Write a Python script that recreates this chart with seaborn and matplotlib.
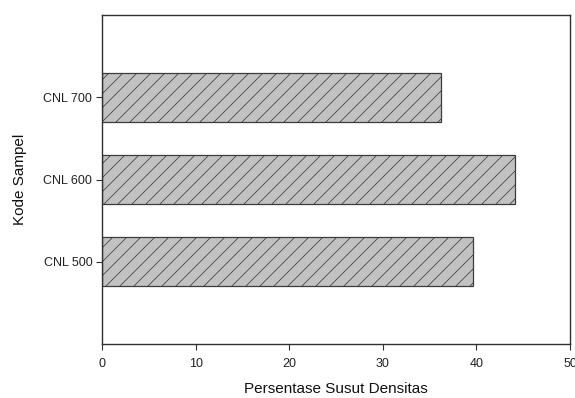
import pandas as pd
import numpy as np
import matplotlib
matplotlib.use('Agg')
import matplotlib.pyplot as plt
import seaborn as sns

# Data
samples = ['CNL 700', 'CNL 600', 'CNL 500']
shrinkage = [36.2, 44.1, 39.6]
x_ticks = [0, 10, 20, 30, 40, 50]

df = pd.DataFrame({'Kode Sampel': samples, 'Persentase': shrinkage})

# render at dpi 84 so the hatch spacing matches; scale point sizes to look like dpi 100
DPI = 84
k = 100 / DPI

sns.set_style('white')
plt.rcParams['font.family'] = ['Liberation Sans', 'DejaVu Sans']
plt.rcParams['hatch.color'] = '#454545'
plt.rcParams['hatch.linewidth'] = 0.55 * k

fig = plt.figure(figsize=(575 / DPI, 398 / DPI), dpi=DPI)
ax = fig.add_axes([102 / 575, 54 / 398, 468 / 575, 329 / 398])

sns.barplot(data=df, x='Persentase', y='Kode Sampel', order=samples,
            orient='h', color='#c2c2c2', width=0.6, ax=ax,
            edgecolor='#3c3c3c', linewidth=0.9 * k, saturation=1)
for bar in ax.patches:
    bar.set_hatch('//')

ax.set_xlim(0, 50)
ax.set_ylim(3, -1)
ax.set_xticks(x_ticks)

for side in ['left', 'bottom', 'top', 'right']:
    ax.spines[side].set_visible(True)
    ax.spines[side].set_color('#303030')
    ax.spines[side].set_linewidth(1.0 * k)

ax.tick_params(axis='both', which='major', direction='out', length=4 * k,
               width=0.8 * k, color='#303030', labelsize=9 * k, labelcolor='#222222',
               left=True, bottom=True)
ax.tick_params(axis='x', pad=6 * k)
ax.tick_params(axis='y', pad=3 * k)

ax.set_xlabel('Persentase Susut Densitas', fontsize=11 * k, color='#111111', labelpad=9 * k)
ax.set_ylabel('Kode Sampel', fontsize=11 * k, color='#111111', labelpad=12 * k)

fig.savefig('out.png', dpi=DPI)
